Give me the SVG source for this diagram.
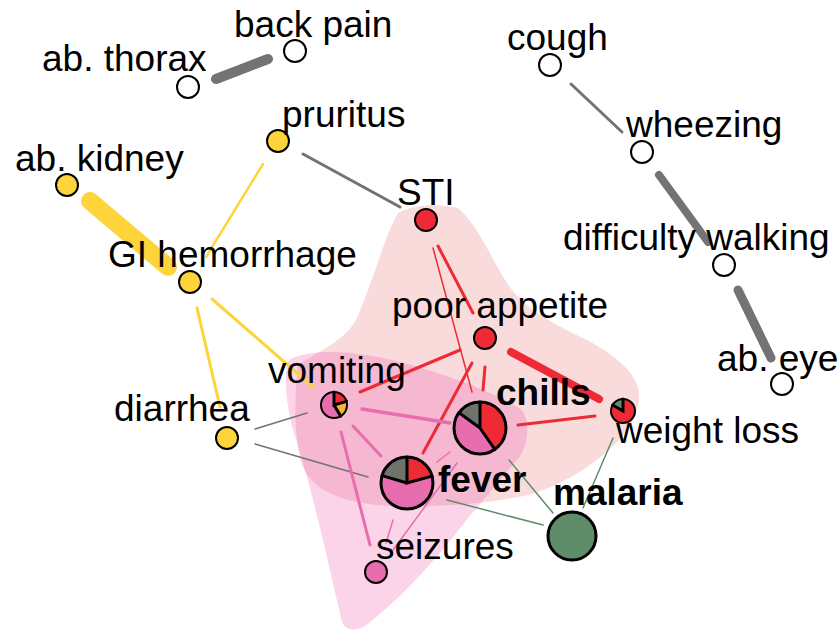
<svg xmlns="http://www.w3.org/2000/svg" width="838" height="630" viewBox="0 0 838 630">
<style>
text{font-family:"Liberation Sans",Arial,Helvetica,sans-serif;font-size:37px;fill:#000}
.b{font-weight:bold}
.n{stroke:#000;stroke-width:2}
.nb{stroke:#000;stroke-width:3}
.sep{stroke:#000;stroke-width:3;fill:none;stroke-linecap:round}
.e{fill:none;stroke-linecap:round}
.gy{stroke:#717375}
.yl{stroke:#FDD43A}
.rd{stroke:#EE2A35}
.pk{stroke:#E86DAE}
.gn{stroke:#5F8D69}
</style>
<defs>
<clipPath id="redclip"><path id="redhull" d="M398,213 C410,205 440,203 458,208 C478,225 492,260 507,283 C520,303 540,318 587,340 C615,355 636,372 639,392 C640,412 630,430 612,447 C590,468 560,485 535,493 C500,503 440,508 390,506 C340,503 312,490 302,465 C294,440 294,400 298,365 C318,352 345,340 356,320 C372,285 385,235 398,213 Z"/></clipPath>
<path id="pinkhull" d="M289,360 C305,350 345,348 400,362 C450,375 500,395 522,410 C530,420 530,450 514,463 C500,480 480,505 468,518 C440,555 400,600 365,626 C355,632 345,630 342,622 C330,570 310,480 293,430 C285,400 284,370 289,360 Z"/>
</defs>
<g id="hulls">
<use href="#redhull" fill="#FADBDC"/>
<use href="#pinkhull" fill="#FBD4EA"/>
<g clip-path="url(#redclip)"><use href="#pinkhull" fill="#F6B8D0"/></g>
</g>
<g id="connectors">
<line class="e gy" x1="216" y1="79" x2="268" y2="59" stroke-width="10"/>
<line class="e gy" x1="303" y1="154" x2="400" y2="207" stroke-width="3"/>
<line class="e yl" x1="90" y1="201" x2="168" y2="267" stroke-width="18"/>
<line class="e yl" x1="263" y1="164" x2="206" y2="257" stroke-width="2.5"/>
<line class="e yl" x1="197" y1="308" x2="220" y2="407" stroke-width="3"/>
<line class="e yl" x1="212" y1="299" x2="313" y2="387" stroke-width="3"/>
<line class="e gy" x1="255" y1="429" x2="307" y2="413" stroke-width="1.5"/>
<line class="e gy" x1="255" y1="444" x2="368" y2="477" stroke-width="1.5"/>
<line class="e gy" x1="571" y1="84" x2="622" y2="132" stroke-width="3"/>
<line class="e gy" x1="659" y1="175" x2="708" y2="242" stroke-width="8"/>
<line class="e gy" x1="738" y1="290" x2="771" y2="358" stroke-width="9"/>
<line class="e rd" x1="438" y1="246" x2="473" y2="313" stroke-width="3"/>
<line class="e rd" x1="433" y1="248" x2="472" y2="392" stroke-width="1.5"/>
<line class="e rd" x1="511" y1="352" x2="599" y2="399" stroke-width="8"/>
<line class="e rd" x1="485" y1="367" x2="483" y2="390" stroke-width="3"/>
<line class="e rd" x1="460" y1="350" x2="360" y2="392" stroke-width="3"/>
<line class="e rd" x1="472" y1="363" x2="423" y2="453" stroke-width="3"/>
<line class="e rd" x1="518" y1="425" x2="595" y2="416" stroke-width="3"/>
<line class="e pk" x1="362" y1="409" x2="450" y2="423" stroke-width="3.5"/>
<line class="e pk" x1="353" y1="426" x2="381" y2="456" stroke-width="3"/>
<line class="e pk" x1="341" y1="432" x2="370" y2="545" stroke-width="3"/>
<line class="e pk" x1="437" y1="462" x2="450" y2="452" stroke-width="1.5"/>
<line class="e pk" x1="393" y1="520" x2="386" y2="543" stroke-width="1.5"/>
<line class="e pk" x1="457" y1="463" x2="393" y2="550" stroke-width="1.5"/>
<line class="e gn" x1="447" y1="500" x2="543" y2="525" stroke-width="1.5"/>
<line class="e gn" x1="509" y1="460" x2="553" y2="513" stroke-width="1.5"/>
<line class="e gn" x1="613" y1="438" x2="583" y2="508" stroke-width="1.5"/>
</g>
<g id="back-pain"><circle class="n" cx="295" cy="51" r="11" fill="#fff"/><text x="234" y="37">back pain</text></g>
<g id="ab-thorax"><circle class="n" cx="188" cy="87" r="11" fill="#fff"/><text x="42" y="71">ab. thorax</text></g>
<g id="pruritus"><circle class="n" cx="278" cy="141" r="11" fill="#FDD43A"/><text x="282" y="127">pruritus</text></g>
<g id="ab-kidney"><circle class="n" cx="67" cy="185" r="11" fill="#FDD43A"/><text x="15" y="171">ab. kidney</text></g>
<g id="gi-hemorrhage"><circle class="n" cx="190" cy="282" r="11" fill="#FDD43A"/><text x="108" y="267">GI hemorrhage</text></g>
<g id="diarrhea"><circle class="n" cx="227" cy="438" r="11" fill="#FDD43A"/><text x="114" y="421">diarrhea</text></g>
<g id="sti"><circle class="n" cx="426" cy="220" r="11" fill="#EE2A35"/><text x="397" y="205">STI</text></g>
<g id="poor-appetite"><circle class="n" cx="485" cy="338" r="11" fill="#EE2A35"/><text x="392" y="318">poor appetite</text></g>
<g id="cough"><circle class="n" cx="550" cy="65" r="11" fill="#fff"/><text x="507" y="50">cough</text></g>
<g id="wheezing"><circle class="n" cx="642" cy="152" r="11" fill="#fff"/><text x="626" y="137">wheezing</text></g>
<g id="difficulty-walking"><circle class="n" cx="724" cy="265" r="11" fill="#fff"/><text x="563" y="250">difficulty walking</text></g>
<g id="ab-eye"><circle class="n" cx="782" cy="384" r="11" fill="#fff"/><text x="717" y="371">ab. eye</text></g>
<g id="vomiting">
<circle cx="334" cy="405" r="13" fill="#E86DAE"/>
<path d="M334,405 L334,392 A13,13 0 0 1 346.5,401.4 Z" fill="#EE2A35"/>
<path d="M334,405 L346.5,401.4 A13,13 0 0 1 340.7,416.1 Z" fill="#F9B234"/>
<circle class="n" cx="334" cy="405" r="13" fill="none"/>
<path class="sep" d="M334,392 L334,405 L346.5,401.4 M334,405 L340.7,416.1" stroke-width="1.5"/>
<text x="268" y="383">vomiting</text></g>
<g id="chills">
<circle cx="480" cy="428" r="26" fill="#E86DAE"/>
<path d="M480,428 L480,402 A26,26 0 0 1 494.9,449.3 Z" fill="#EE2A35"/>
<path d="M480,428 L459.0,412.7 A26,26 0 0 1 480,402 Z" fill="#6F736C"/>
<circle class="nb" cx="480" cy="428" r="26" fill="none"/>
<path class="sep" d="M480,402 L480,428 L494.9,449.3 M480,428 L459.0,412.7"/>
<text class="b" x="496" y="405">chills</text></g>
<g id="fever">
<circle cx="407" cy="483" r="26" fill="#E86DAE"/>
<path d="M407,483 L407,457 A26,26 0 0 1 432.1,476.1 Z" fill="#EE2A35"/>
<path d="M407,483 L382.1,475.6 A26,26 0 0 1 407,457 Z" fill="#6F736C"/>
<circle class="nb" cx="407" cy="483" r="26" fill="none"/>
<path class="sep" d="M407,457 L407,483 L432.1,476.1 M407,483 L382.1,475.6"/>
<text class="b" x="438" y="492">fever</text></g>
<g id="weight-loss">
<circle cx="623" cy="411" r="12" fill="#EE2A35"/>
<path d="M623,411 L612.6,405 A12,12 0 0 1 623,399 Z" fill="#5F8D69"/>
<circle class="n" cx="623" cy="411" r="12" fill="none"/>
<path class="sep" d="M623,399 L623,411 L612.6,405" stroke-width="1.5"/>
<text x="616" y="443">weight loss</text></g>
<g id="malaria"><circle class="nb" cx="572" cy="536" r="24" fill="#5F8D69"/><text class="b" x="553" y="505">malaria</text></g>
<g id="seizures"><circle class="n" cx="376" cy="572" r="11" fill="#E86DAE"/><text x="376" y="559">seizures</text></g>
</svg>
